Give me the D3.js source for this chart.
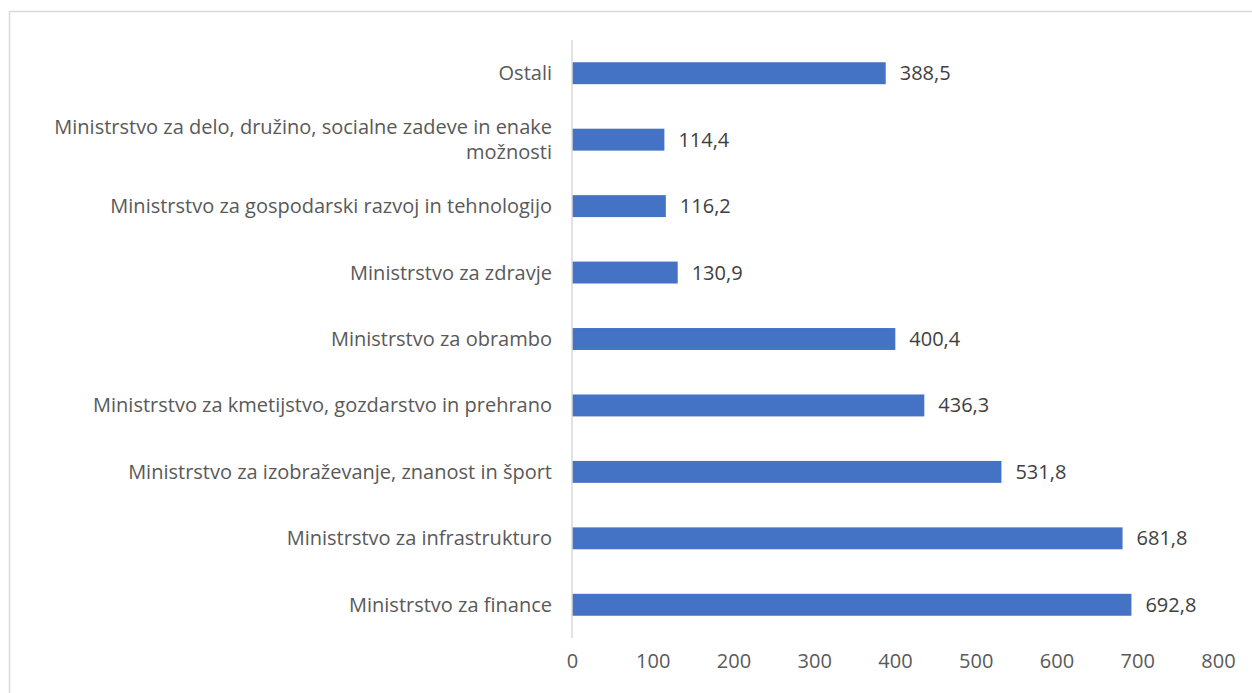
<!DOCTYPE html>
<html>
<head>
<meta charset="utf-8">
<script src="https://cdn.jsdelivr.net/npm/d3@7"></script>
<style>
  html, body { margin:0; padding:0; background:#fff; }
  svg { display:block; }
</style>
</head>
<body>
<div id="chart"></div>
<script>
let categories = [
  "Ostali",
  "Ministrstvo za delo, družino, socialne zadeve in enake možnosti",
  "Ministrstvo za gospodarski razvoj in tehnologijo",
  "Ministrstvo za zdravje",
  "Ministrstvo za obrambo",
  "Ministrstvo za kmetijstvo, gozdarstvo in prehrano",
  "Ministrstvo za izobraževanje, znanost in šport",
  "Ministrstvo za infrastrukturo",
  "Ministrstvo za finance"
]
let values = [388.5, 114.4, 116.2, 130.9, 400.4, 436.3, 531.8, 681.8, 692.8]
let xTicks = [0, 100, 200, 300, 400, 500, 600, 700, 800]
// labels that wrap in the original
let labelLines = {
  "Ministrstvo za delo, družino, socialne zadeve in enake možnosti":
    ["Ministrstvo za delo, družino, socialne zadeve in enake", "možnosti"]
}

let width = 1252, height = 693,
    margin = { top:40, left:572, right:34, bottom:55 },
    innerHeight = height - margin.top - margin.bottom,
    fs = 20,
    font = "Open Sans, sans-serif"

let svg = d3.select("#chart").append("svg")
  .attr("width", width).attr("height", height)
  .attr("viewBox", `0 0 ${width} ${height}`)
  .attr("font-family", font)

// chart frame: only the top and left edges fall inside the picture
svg.append("path")
  .attr("d", `M9.5,${height}V11.5H${width}`)
  .attr("fill", "none").attr("stroke", "#d9d9d9").attr("stroke-width", 1.5)

let g = svg.append("g").attr("transform", `translate(${margin.left},${margin.top})`)

let xScale = d3.scaleLinear().domain([0, 800]).range([0, 646])
let yScale = d3.scaleBand().domain(categories).range([0, innerHeight]).paddingInner(0.67).paddingOuter(0.335)

let fmt = v => d3.format(".1f")(v).replace(".", ",")

g.selectAll("rect.bar").data(values).enter().append("rect")
  .attr("class", "bar")
  .attr("x", xScale(0))
  .attr("y", (d, i) => yScale(categories[i]))
  .attr("width", d => xScale(d) - xScale(0))
  .attr("height", yScale.bandwidth())
  .attr("fill", "#4472c4")

g.selectAll("text.val").data(values).enter().append("text")
  .attr("class", "val")
  .attr("x", d => xScale(d) + 14)
  .attr("y", (d, i) => yScale(categories[i]) + yScale.bandwidth() / 2 + 7)
  .attr("font-size", fs)
  .attr("fill", "#404040")
  .text(d => fmt(d))

let xAxis = d3.axisBottom(xScale).tickValues(xTicks).tickSize(0).tickPadding(16)
let xGroup = g.append("g").attr("transform", `translate(0,${innerHeight})`).call(xAxis)
  .attr("font-size", fs).attr("font-family", font)
xGroup.select(".domain").remove()
xGroup.selectAll("text").attr("fill", "#595959")

let yAxis = d3.axisLeft(yScale).tickSize(0).tickFormat("")
let yGroup = g.append("g").call(yAxis)
yGroup.select(".domain").attr("stroke", "#d9d9d9").attr("stroke-width", 1.5)
  .attr("d", `M0,0V${innerHeight}`)
yGroup.selectAll(".tick").remove()

// category labels, wrapped where the original wraps
g.selectAll("text.cat").data(categories).enter().append("text")
  .attr("class", "cat")
  .attr("text-anchor", "end")
  .attr("font-size", fs).attr("fill", "#595959")
  .each(function(d) {
    let lines = labelLines[d] || [d]
    let y0 = yScale(d) + yScale.bandwidth() / 2 + 7 - (lines.length - 1) * 12.5
    lines.forEach((l, i) => {
      d3.select(this).append("tspan").attr("x", -20).attr("y", y0 + i * 25).text(l)
    })
  })
</script>
</body>
</html>
